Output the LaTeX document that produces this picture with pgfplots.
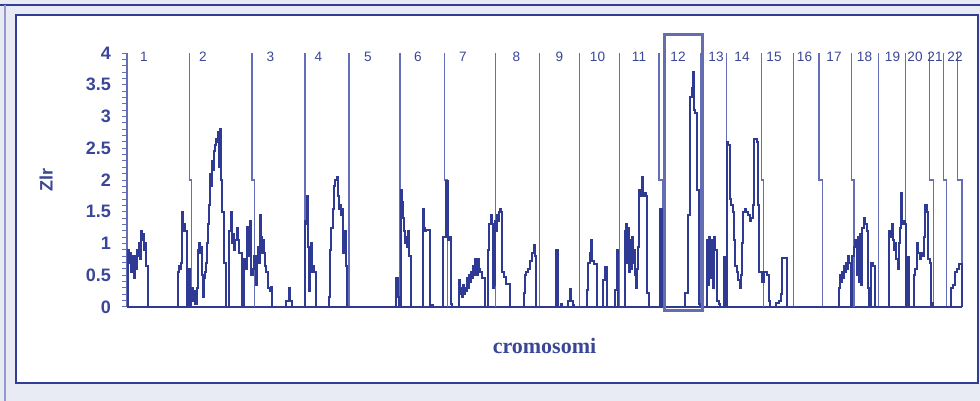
\documentclass[border=0pt]{standalone}
\usepackage{fontspec}
\setmainfont{Liberation Sans}
\newfontfamily\seriffont{Liberation Serif}
\usepackage{pgfplots}
\pgfplotsset{compat=1.18}
\definecolor{dataC}{RGB}{46,58,148}
\definecolor{sepC}{RGB}{100,110,185}
\definecolor{txtC}{RGB}{58,70,150}
\definecolor{bgC}{RGB}{232,234,244}
\definecolor{frameC}{RGB}{50,62,150}
\definecolor{boxC}{RGB}{100,110,175}
\begin{document}
\begin{tikzpicture}
\begin{scope}[x=0.5pt,y=0.5pt]
\fill[bgC] (0,0) rectangle (980,401);
\draw[frameC, line width=0.6pt] (0,396) -- (980,396);
\draw[sepC!70, line width=0.6pt] (5,0) -- (5,396);
\draw[frameC, line width=1.1pt, fill=white] (16,18) rectangle (978,386);
\end{scope}
\begin{axis}[
  at={(63.5pt,47pt)}, anchor=south west,
  scale only axis, width=417.5pt, height=127pt,
  xmin=127, xmax=962, ymin=0, ymax=4,
  clip=false,
  axis x line=bottom, axis y line=left,
  x axis line style={-, dataC, line width=1pt},
  y axis line style={-, sepC, line width=0.6pt},
  xtick=\empty,
  ytick={0,0.5,1,1.5,2,2.5,3,3.5,4},
  yticklabels={0,0.5,1,1.5,2,2.5,3,3.5,4},
  minor y tick num=4,
  tick align=outside,
  major tick length=2.5pt, minor tick length=2.5pt,
  tick style={sepC, line width=0.5pt},
  yticklabel style={font=\bfseries\fontsize{9}{10}\selectfont, text=txtC, anchor=east, xshift=-2pt},
  ylabel={Zlr},
  every axis y label/.style={at={(axis description cs:-0.097,0.5)}, anchor=center, rotate=90, font=\bfseries\fontsize{9}{10}\selectfont, text=txtC},
  xlabel={cromosomi},
  every axis x label/.style={at={(axis description cs:0.5,-0.152)}, anchor=center, font=\seriffont\bfseries\fontsize{11}{12}\selectfont, text=txtC},
]
% separators
\addplot[sepC, line width=0.7pt] coordinates {(189.3,4)(189.3,2)(191.7,2)(191.7,0)};
\addplot[sepC, line width=0.7pt] coordinates {(252,4)(252,2)(254.7,2)(254.7,0)};
\addplot[sepC, line width=0.7pt] coordinates {(305,4)(305,0)};
\addplot[sepC, line width=0.9pt] coordinates {(349,4)(349,0)};
\addplot[sepC, line width=0.7pt] coordinates {(400,4)(400,0)};
\addplot[sepC, line width=0.7pt] coordinates {(444.3,4)(444.3,2)(447.7,2)(447.7,0)};
\addplot[sepC, line width=0.7pt] coordinates {(495.3,4)(495.3,0)};
\addplot[sepC, line width=0.7pt] coordinates {(539.7,4)(539.7,0)};
\addplot[sepC, line width=0.7pt] coordinates {(579.7,4)(579.7,0)};
\addplot[sepC, line width=0.7pt] coordinates {(619.3,4)(619.3,0)};
\addplot[sepC, line width=0.7pt] coordinates {(659,4)(659,2)(662.3,2)(662.3,0)};
\addplot[sepC, line width=0.7pt] coordinates {(701,4)(701,0)};
\addplot[sepC, line width=0.7pt] coordinates {(726.3,4)(726.3,0)};
\addplot[sepC, line width=0.7pt] coordinates {(761.3,4)(761.3,2)(763.7,2)(763.7,0)};
\addplot[sepC, line width=0.7pt] coordinates {(793.3,4)(793.3,0)};
\addplot[sepC, line width=0.7pt] coordinates {(819,4)(819,2)(822.3,2)(822.3,0)};
\addplot[sepC, line width=0.7pt] coordinates {(851.3,4)(851.3,2)(854,2)(854,0)};
\addplot[sepC, line width=0.7pt] coordinates {(878.7,4)(878.7,0)};
\addplot[sepC, line width=0.7pt] coordinates {(905.3,4)(905.3,0)};
\addplot[sepC, line width=0.7pt] coordinates {(929.3,4)(929.3,2)(933.3,2)(933.3,0)};
\addplot[sepC, line width=0.7pt] coordinates {(943.3,4)(943.3,2)(946.7,2)(946.7,0)};
\addplot[sepC, line width=0.7pt] coordinates {(957.7,4)(957.7,2)(962,2)(962,0)};
% Zlr profile
\addplot[dataC, line width=1pt, const plot mark left] coordinates {
(127,0) (128,0.9) (129,0.7) (130,0.85) (131,0.55) (132,0.8) (133,0.65) (134,0.45) (135,0.8) (136,0.6) (137,0.9) (138,0.8) (139,1.0) (140,0.75) (141,1.2) (142,1.05) (143,1.15) (144,0.9) (145,1.0) (146,0.65) (148,0)
(178,0.55) (179,0.65) (180,0.6) (181,0.7) (182,1.5) (183,1.2) (184,1.3) (185,1.2) (186.5,0)
(189,0.6) (190,0) (191,0.15) (192,0.3) (193,0.1) (194,0.25) (195,0.05) (197,0.3) (198,0.9) (199,1.0) (200,0.85) (201,0.95) (202,0.5) (203,0.15) (204,0.45) (205,0.55) (206,0.7) (207,1.0) (208,1.3) (209,1.6) (210,2.1) (211,1.9) (212,2.3) (213,2.15) (214,2.45) (215,2.55) (216,2.65) (217,2.6) (218,2.75) (219,2.2) (220,2.8) (221,2.0) (222,1.5) (224,0.7) (226,0)
(229,1.2) (230.5,1.5) (231.5,1.0) (233,1.15) (234,0.9) (235,1.05) (236.5,1.25) (237.5,1.05) (239,0.85) (242,0) (244,0.75) (246,0.6) (247,1.26) (248.5,0.8) (250,1.35) (251,0.5) (252.5,0.6) (254,0.8) (255.5,0.35) (257,0.7) (258,0.95) (259,0.7) (260,1.45) (261,1.1) (262,0.85) (263,1.05) (264,0.85) (265,0.65) (266,0.55) (268,0.3) (270,0.25) (271,0.32) (272,0)
(286,0.1) (289,0.3) (290,0.1) (292,0)
(305,1.35) (306,1.3) (307,1.75) (308,0.95) (309,0.25) (310,0.95) (311,1.0) (312,0.55) (313,0.65) (314,0.55) (316,0)
(329,0.15) (330,0.9) (331,1.25) (332.5,1.55) (334,1.9) (335,2.0) (336.5,2.05) (337.5,1.75) (338.5,1.55) (339.5,1.6) (341,1.45) (342,1.55) (343,0.85) (344.5,1.2) (345.5,0.65) (347,0)
(396,0.45) (397.5,0.15) (399,0)
(400.5,1.85) (402,1.65) (403,1.4) (404,1.2) (405,1.0) (406,1.1) (407,0.95) (408,1.2) (409,0.8) (411,0)
(422.5,1.55) (424,1.25) (425,1.2) (426,1.22) (429.5,0) (431,0.03) (433,0)
(442.5,1.1) (444,1.1) (446,1.98) (448,1.05) (449,1.1) (451,0.05) (452,0)
(459,0.42) (460,0.2) (461,0.3) (462,0.15) (463,0.35) (464,0.2) (465,0.3) (466,0.25) (467,0.45) (468,0.3) (469,0.5) (470,0.4) (471,0.55) (472,0.45) (473,0.65) (474,0.5) (475,0.75) (476,0.6) (477,0.5) (478,0.75) (479,0.6) (480,0.55) (482,0.45) (485,0)
(487.5,0.9) (489,1.3) (490.5,1.45) (491.5,1.3) (492.5,0.3) (494,0.35) (495,1.35) (496,1.2) (497,1.45) (498,1.35) (499,1.5) (500,1.55) (501,1.5) (502,0.55) (504,0.48) (506,0.37) (509.5,0)
(524,0.22) (525,0.5) (526,0.55) (528,0.6) (530,0.72) (532,0.85) (533.5,0.98) (534.5,0.8) (536,0)
(556,0.9) (558,0) (561,0.05) (562,0) (568,0.1) (569.5,0.28) (571,0.1) (573,0.03) (574,0)
(586.5,0.27) (588,0.7) (589.5,0.85) (591,1.05) (592,0.72) (594,0.68) (596.5,0) (603,0.42) (604.5,0.63) (606.5,0) (615,0.27) (616.5,0.9) (618,0)
(625,1.2) (626,1.3) (627,0.7) (628,1.25) (629,0.55) (630,1.05) (631,0.6) (632,1.1) (633,0.7) (634,0.9) (635,0.5) (636,0.3) (637,0.6) (638,0.95) (639,1.85) (640,1.75) (641,1.8) (642,2.05) (643,1.75) (644,1.8) (646,1.75) (647,0.22) (649,0)
(660,1.55) (661.5,0)
(685,0.22) (688,1.45) (690,3.3) (691.5,3.45) (692.5,3.7) (693.5,3.1) (695,3.05) (696.5,1.85) (698.5,0.05) (699.5,0)
(707,1.05) (708,0.35) (709,1.1) (710,0.45) (711,1.05) (712,0.8) (713,0.3) (714,1.1) (715,0.9) (716.5,0.1) (718.5,0.05) (720,0)
(723.5,0.79) (725,0)
(726.5,2.6) (728,2.55) (729.5,1.7) (731,1.6) (732.5,1.5) (733.5,1.05) (735,0.65) (736.5,0.55) (738,0.42) (739.5,0.3) (741,0.5) (742,1.0) (743,1.5) (744.5,1.55) (746,1.5) (748,1.45) (749.5,1.35) (751,1.4) (752.5,1.6) (753.5,2.65) (756.5,2.6) (758,1.6) (759,0.55) (762,0.4) (763.5,0.55) (767,0.5) (768.5,0.1) (770,0)
(775.5,0.06) (779,0.1) (781,0.2) (782.3,0.77) (787.3,0)
(838.5,0.3) (840,0.5) (841,0.4) (842,0.55) (843,0.45) (844,0.65) (845,0.55) (846,0.7) (847,0.6) (848,0.8) (849,0.7) (850.5,0)
(852,0.8) (853.5,0.95) (855,1.05) (856.5,0.5) (857.5,1.1) (859,0.4) (860,1.15) (861,0.35) (862,1.25) (863.5,1.4) (865,1.3) (866.5,1.2) (868,0.3) (869,0) (871,0.7) (873,0.65) (874.5,0)
(888.5,1.2) (890,1.1) (891.5,1.3) (892.5,1.05) (893.5,0.9) (894.5,1.0) (896,0.75) (897.5,0.6) (899,1.0) (900,1.25) (901,1.8) (902,1.3) (903.5,1.35) (905,1.3) (906,0) (907,0.78) (909,0)
(913.5,0.5) (915,0.6) (916.5,1.0) (918,0.85) (919.5,0.75) (921,0.85) (922.5,0.8) (923.5,1.1) (925,1.6) (926.5,1.5) (928,0.75) (929.5,0.7) (930.5,0) (931.5,0.06) (933,0)
(951,0.3) (953,0.35) (955,0.55) (957,0.6) (958.5,0.68) (961,0.68) (962,0)
};
% chromosome numbers
\foreach \xx/\lab in {144/1,203/2,270.5/3,318.5/4,368/5,418/6,463/7,516.5/8,559.5/9,597.5/10,639/11,678/12,716/13,742/14,774/15,804.5/16,834/17,864.5/18,892.5/19,915/20,935/21,955/22}{
  \edef\tmp{\noexpand\node[font=\noexpand\fontsize{6.8}{7}\noexpand\selectfont, text=txtC] at (axis cs:\xx,3.94) {\lab};}
  \tmp
}
\end{axis}
\begin{scope}[x=0.5pt,y=0.5pt]
\draw[boxC, line width=1.5pt] (664,90) rectangle (702,366);
\end{scope}
\pgfresetboundingbox
\path (0,0) rectangle (490pt,200.5pt);
\end{tikzpicture}
\end{document}
